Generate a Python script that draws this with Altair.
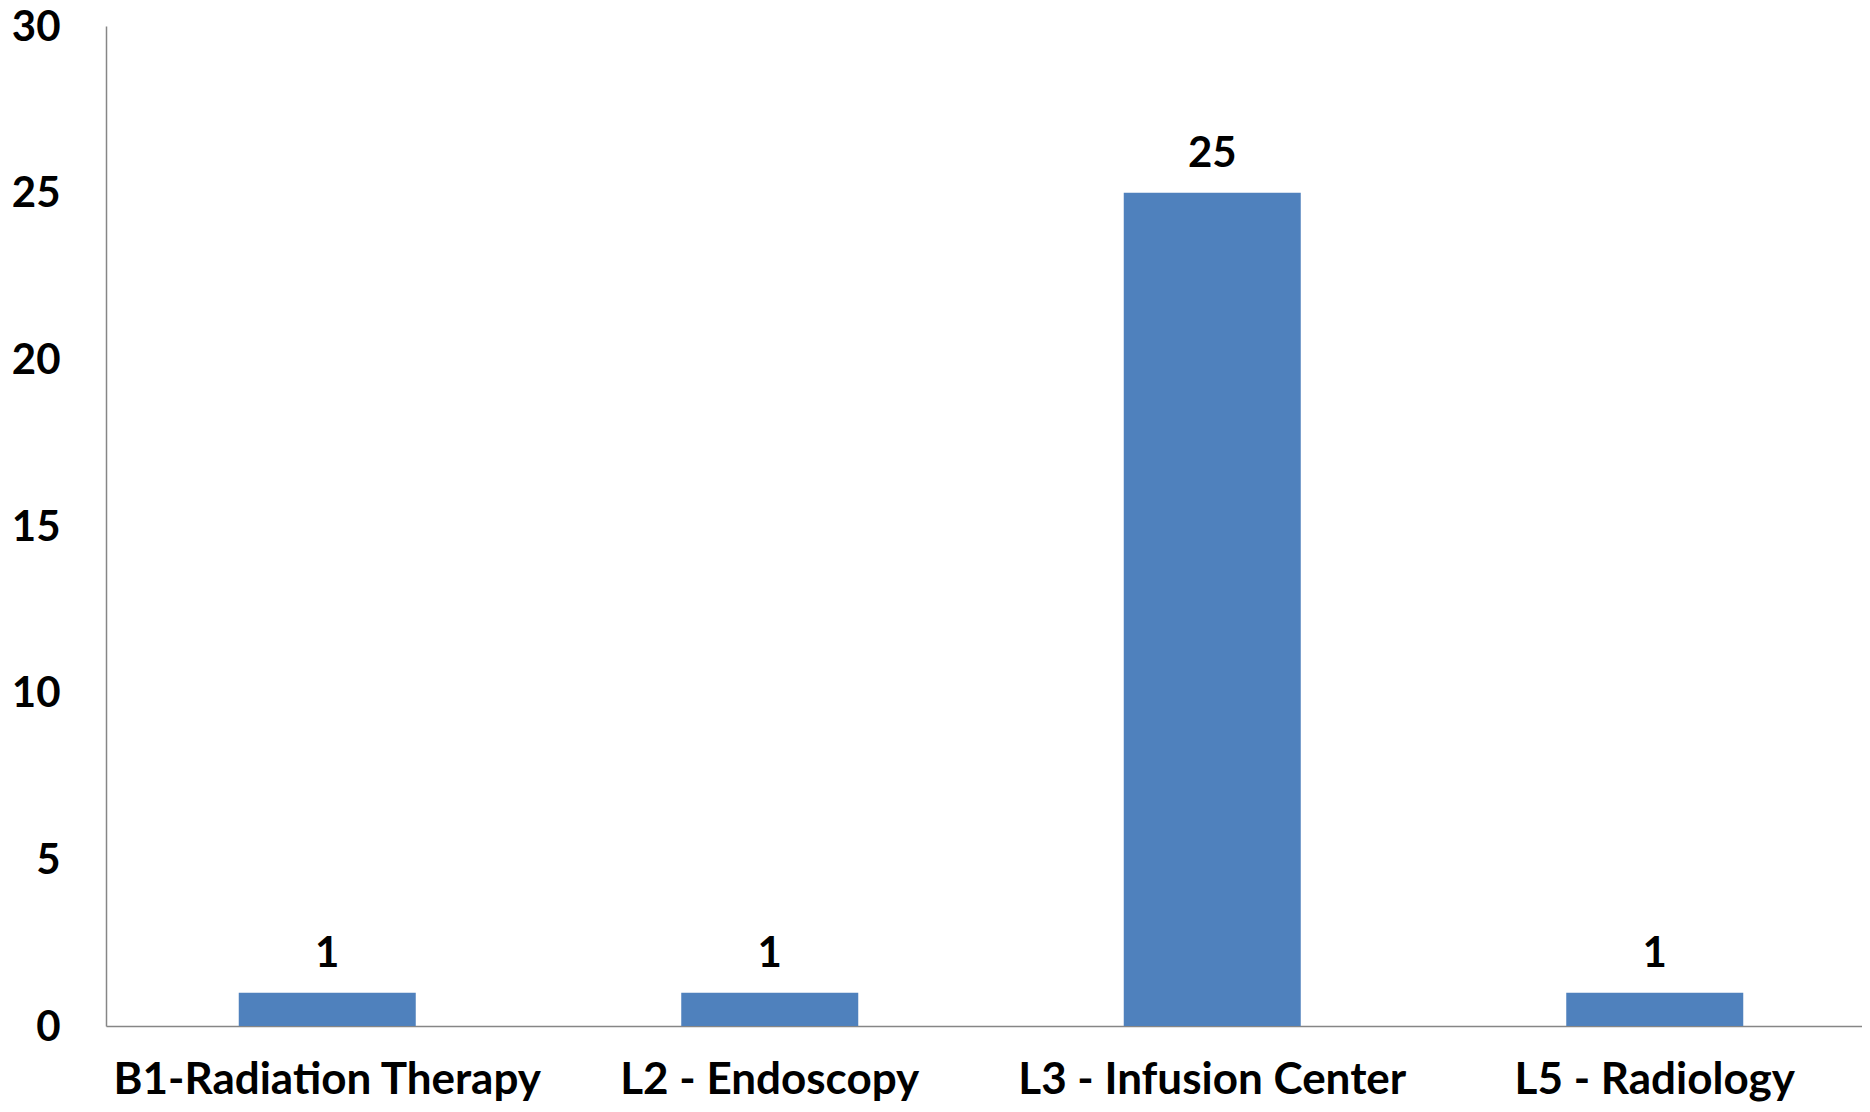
import altair as alt
import pandas as pd

categories = ["B1-Radiation Therapy", "L2 - Endoscopy", "L3 - Infusion Center", "L5 - Radiology"]
values = [1, 1, 25, 1]
y_ticks = [0, 5, 10, 15, 20, 25, 30]

df = pd.DataFrame({"category": categories, "value": values})

FONT = "Lato"
FS = 42
x = alt.X(
    "category:N",
    sort=categories,
    title=None,
    scale=alt.Scale(paddingInner=0.6, paddingOuter=0.3, range=[0, 1770]),
    axis=alt.Axis(
        labelAngle=0, ticks=False, tickSize=0, labelPadding=67, labelBaseline="alphabetic",
        labelFont=FONT, labelFontSize=44, labelFontWeight="bold", labelColor="black",
        domainColor="#868686", domainWidth=1.5, grid=False, labelLimit=1000,
    ),
)
y = alt.Y(
    "value:Q",
    title=None,
    scale=alt.Scale(domain=[0, 30], nice=False),
    axis=alt.Axis(
        values=y_ticks, ticks=False, tickSize=0, labelPadding=46,
        labelBaseline="alphabetic", labelOffset=14,
        labelFont=FONT, labelFontSize=FS, labelFontWeight="bold", labelColor="black",
        domainColor="#868686", domainWidth=1.5, grid=False,
    ),
)

bars = alt.Chart(df).mark_bar(color="#4F81BD").encode(x=x, y=y)
text = alt.Chart(df).mark_text(
    font=FONT, fontSize=FS, fontWeight="bold", color="black", baseline="alphabetic", dy=-26
).encode(x=alt.X("category:N", sort=categories), y="value:Q", text="value:Q")

chart = (bars + text).properties(
    width=1756,
    height=1000,
    autosize=alt.AutoSizeParams(type="none"),
    padding={"left": 98, "top": 18, "right": 0, "bottom": 78},
    background="white",
).configure_view(stroke=None)

chart.save("out.html", embed_options={"renderer": "svg", "actions": False})
